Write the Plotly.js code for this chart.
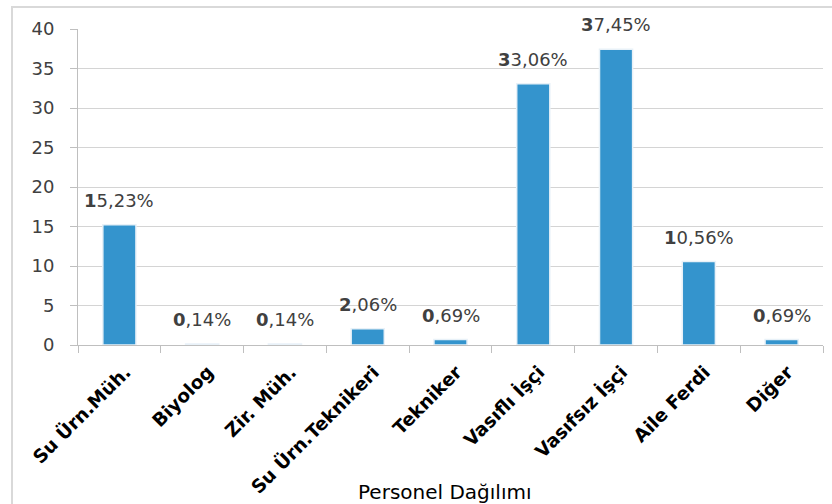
<!DOCTYPE html>
<html><head><meta charset="utf-8">
<script src="https://cdn.plot.ly/plotly-3.0.1.min.js"></script>
<style>html,body{margin:0;padding:0;background:#fff;}#chart{width:832px;height:504px;}</style>
</head><body><div id="chart"></div>
<script>
const categories = ["Su Ürn.Müh.", "Biyolog", "Zir. Müh.", "Su Ürn.Teknikeri", "Tekniker", "Vasıflı İşçi", "Vasıfsız İşçi", "Aile Ferdi", "Diğer"];
const values = [15.23, 0.14, 0.14, 2.06, 0.69, 33.06, 37.45, 10.56, 0.69];
const yTicks = [0, 5, 10, 15, 20, 25, 30, 35, 40];

const FONT = '"DejaVu Sans", "Liberation Sans", sans-serif';

function fmtLabel(v) {
  const s = v.toFixed(2).replace('.', ',') + '%';
  return '<b>' + s[0] + '</b>' + s.slice(1);
}

const trace = {
  type: 'bar',
  x: categories,
  y: values,
  marker: { color: '#3494cd', line: { color: '#e8f1f8', width: 1.5 } },
  width: 0.4,
  hoverinfo: 'none'
};

const annotations = categories.map((c, i) => ({
  x: c, y: values[i], xref: 'x', yref: 'y',
  text: fmtLabel(values[i]), showarrow: false,
  yanchor: 'bottom', yshift: 12,
  font: { family: FONT, size: 18, color: '#404040' }
}));
annotations.push({
  x: 0.493, y: -0.465, xref: 'paper', yref: 'paper', showarrow: false,
  text: 'Personel Dağılımı', yanchor: 'middle',
  font: { family: FONT, size: 20, color: '#000' }
});

const layout = {
  width: 832, height: 504,
  margin: { l: 78, r: 9, t: 29, b: 159 },
  paper_bgcolor: '#fff', plot_bgcolor: '#fff',
  showlegend: false,
  xaxis: {
    type: 'category',
    showline: true, linecolor: '#bfbfbf', linewidth: 1,
    ticks: 'outside', tickson: 'boundaries', ticklen: 7, tickcolor: '#bfbfbf',
    tickangle: -45,
    ticklabelshift: 6, ticklabelstandoff: 8,
    tickfont: { family: FONT, size: 18.5, color: '#000', weight: 'bold' },
    showgrid: false
  },
  yaxis: {
    range: [0, 40], tickvals: yTicks,
    showline: true, linecolor: '#bfbfbf', linewidth: 1,
    ticks: 'outside', ticklen: 7, tickcolor: '#bfbfbf',
    ticklabelstandoff: 12,
    gridcolor: '#d4d4d4', gridwidth: 1,
    zeroline: false,
    tickfont: { family: FONT, size: 18, color: '#404040' }
  },
  annotations: annotations,
  shapes: [{
    type: 'rect', xref: 'paper', yref: 'paper',
    x0: -0.0886, x1: 1.05, y0: -0.7, y1: 1.0696,
    line: { color: '#d9d9d9', width: 2 }, fillcolor: 'rgba(0,0,0,0)', layer: 'below'
  }]
};

Plotly.newPlot('chart', [trace], layout, { displayModeBar: false, staticPlot: true });
</script></body></html>
